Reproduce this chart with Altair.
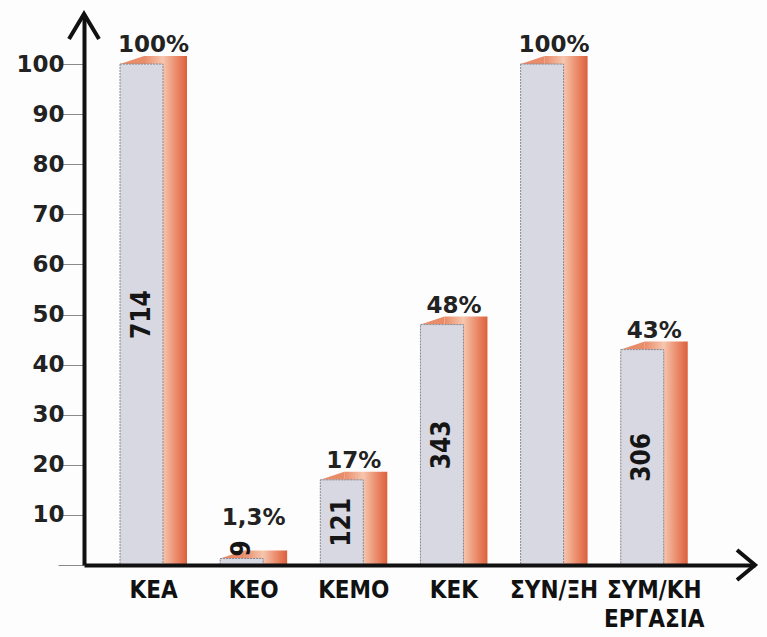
import altair as alt
import pandas as pd

# Categories, share of the total (%) and head counts
categories = ["ΚΕΑ", "ΚΕΟ", "ΚΕΜΟ", "ΚΕΚ", "ΣΥΝ/ΞΗ", "ΣΥΜ/ΚΗ\nΕΡΓΑΣΙΑ"]
percent = [100, 1.3, 17, 48, 100, 43]
percent_text = ["100%", "1,3%", "17%", "48%", "100%", "43%"]
counts = ["714", "9", "121", "343", "", "306"]
y_ticks = [0, 10, 20, 30, 40, 50, 60, 70, 80, 90, 100]

df = pd.DataFrame({
    "cat": categories,
    "pct": percent,
    "pct_label": percent_text,
    "count": counts,
})

W, H = 671, 551
FRONT_W = 43
DEPTH_X, DEPTH_Y = 24, 8

FRONT = "#d8d8e2"
FRONT_EDGE = "#85858f"
LABEL_FONT = "DejaVu Sans Condensed, Liberation Sans Narrow, DejaVu Sans"
BOLD_FONT = "DejaVu Sans, Liberation Sans, Arial"

x_enc = alt.X(
    "cat:N",
    sort=categories,
    scale=alt.Scale(paddingInner=0.5, paddingOuter=0.6, align=0.37),
    axis=alt.Axis(
        title=None,
        labelAngle=0,
        labelFont=LABEL_FONT,
        labelFontSize=24,
        labelFontWeight="bold",
        labelColor="#111111",
        labelPadding=13,
        labelExpr="split(datum.label, '\\n')",
        labelLineHeight=29,
        ticks=False,
        domainColor="#111111",
        domainWidth=4,
        zindex=2,
    ),
)
y_scale = alt.Scale(domain=[0, 110], nice=False)
y_enc = alt.Y(
    "pct:Q",
    scale=y_scale,
    axis=alt.Axis(
        title=None,
        values=y_ticks,
        labelExpr="datum.value == 0 ? '' : datum.label",
        labelFont=BOLD_FONT,
        labelFontSize=23,
        labelFontWeight="bold",
        labelColor="#222222",
        labelPadding=-6,
        tickSize=26,
        tickColor="#8a8a8a",
        tickWidth=1,
        grid=False,
        domainColor="#111111",
        domainWidth=4,
        zindex=2,
    ),
)

base = alt.Chart(df)

# back block: top and right side of each box, shaded orange
side_gradient = alt.Gradient(
    gradient="linear",
    x1=0, x2=1, y1=0, y2=0,
    stops=[
        alt.GradientStop(offset=0.0, color="#e98c6a"),
        alt.GradientStop(offset=0.44, color="#f6c6ae"),
        alt.GradientStop(offset=0.72, color="#ec9070"),
        alt.GradientStop(offset=1.0, color="#dc603c"),
    ],
)
back = base.mark_bar(
    size=FRONT_W,
    xOffset=DEPTH_X - 12,
    yOffset=-DEPTH_Y,
    y2Offset=0,
    fill=side_gradient,
).encode(x=x_enc, y=y_enc, y2=alt.datum(0))

# slanted corner joining the front top edge to the back block
r = DEPTH_Y
corner = base.mark_point(
    shape="M-3,0 L0,-1 L0,0 Z",
    size=(2 * r) ** 2,
    filled=True,
    fill="#e98c6a",
    strokeWidth=0,
    opacity=1,
    xOffset=-33.5 + DEPTH_X,
).encode(x=x_enc, y=y_enc)

front = base.mark_bar(
    size=FRONT_W,
    xOffset=-12,
    fill=FRONT,
    stroke=FRONT_EDGE,
    strokeWidth=1,
    strokeDash=[2, 1],
).encode(x=x_enc, y=y_enc, y2=alt.datum(0))

# percentage above each box; very short boxes keep their label clear of the count
pct_text = base.transform_calculate(
    top="max(datum.pct, 5.5)"
).mark_text(
    font=BOLD_FONT,
    fontSize=23,
    fontWeight="bold",
    color="#222222",
    baseline="bottom",
    dy=-7,
).encode(x=x_enc, y=alt.Y("top:Q", scale=y_scale), text="pct_label:N")

count_text = base.transform_calculate(
    mid="max(datum.pct / 2, 3.3)"
).mark_text(
    font=LABEL_FONT,
    fontSize=26,
    fontWeight="bold",
    color="#151515",
    angle=270,
    baseline="middle",
    align="center",
    xOffset=-12,
).encode(
    x=x_enc,
    y=alt.Y("mid:Q", scale=y_scale),
    text="count:N",
)

# open arrowheads at the ends of both axes
arrow_src = alt.Chart(pd.DataFrame({"k": [0]}))
y_arrow = arrow_src.mark_point(
    shape="M-1,1.67 L0,0 L1,1.67",
    size=900,
    filled=False,
    stroke="#111111",
    strokeWidth=4,
    opacity=1,
).encode(x=alt.value(0), y=alt.value(0))
x_arrow = arrow_src.mark_point(
    shape="M-1.2,-1 L0,0 L-1.2,1",
    size=900,
    filled=False,
    stroke="#111111",
    strokeWidth=4,
    opacity=1,
).encode(x=alt.value(W), y=alt.value(H))

chart = alt.layer(
    back, corner, front, pct_text, count_text, y_arrow, x_arrow
).properties(
    width=W,
    height=H,
    autosize=alt.AutoSizeParams(type="none"),
    padding={"left": 84, "top": 14, "right": 12, "bottom": 72},
    background="#fdfdfd",
).configure_view(stroke=None)

chart.save("out.html", embed_options={"renderer": "svg", "actions": False})
